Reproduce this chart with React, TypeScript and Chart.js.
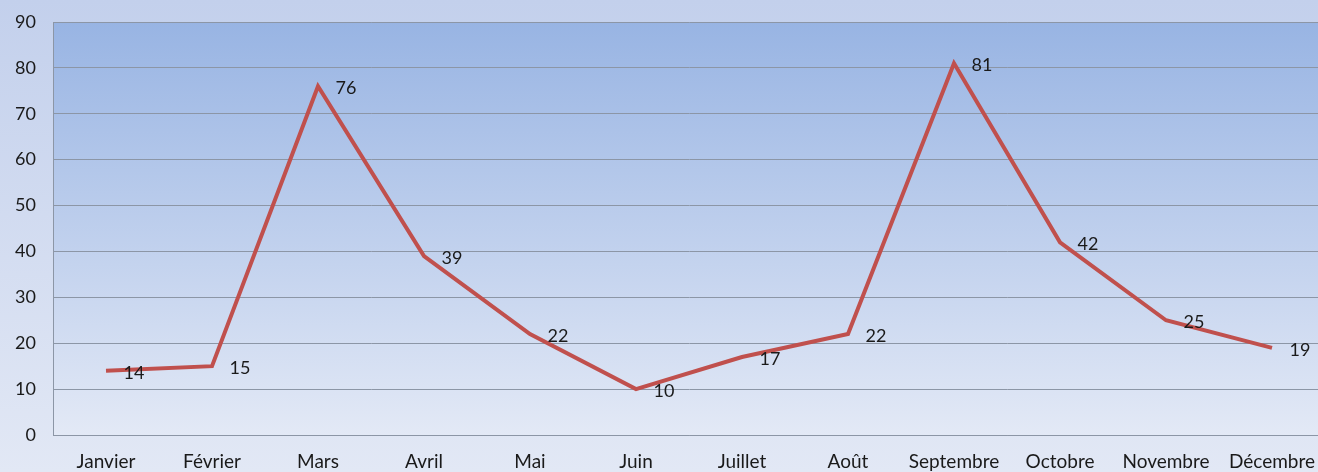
import React, { useEffect, useRef } from "react";
import { Chart, registerables } from "chart.js";

Chart.register(...registerables);

const categories = ["Janvier", "Février", "Mars", "Avril", "Mai", "Juin", "Juillet", "Août", "Septembre", "Octobre", "Novembre", "Décembre"];
const values = [14, 15, 76, 39, 22, 10, 17, 22, 81, 42, 25, 19];

const FONT = "Lato, 'Noto Sans', sans-serif";

const bgPlugin = {
  id: "bgPlugin",
  beforeDraw(chart: any) {
    const { ctx, width, height, chartArea } = chart;
    ctx.save();
    const g = ctx.createLinearGradient(0, 0, 0, height);
    g.addColorStop(0, "#c3d0ec");
    g.addColorStop(1, "#e2e8f5");
    ctx.fillStyle = g;
    ctx.fillRect(0, 0, width, height);
    const g2 = ctx.createLinearGradient(0, chartArea.top, 0, chartArea.bottom);
    g2.addColorStop(0, "#98b4e3");
    g2.addColorStop(1, "#e3e9f6");
    ctx.fillStyle = g2;
    ctx.fillRect(chartArea.left, chartArea.top, chartArea.right - chartArea.left, chartArea.bottom - chartArea.top);
    ctx.restore();
  },
};

const labelPlugin = {
  id: "labelPlugin",
  afterDatasetsDraw(chart: any) {
    const { ctx } = chart;
    const meta = chart.getDatasetMeta(0);
    ctx.save();
    ctx.font = "18px " + FONT;
    ctx.fillStyle = "#1a1a1a";
    ctx.textAlign = "center";
    ctx.textBaseline = "middle";
    meta.data.forEach((pt: any, i: number) => {
      ctx.fillText(String(values[i]), pt.x + 28, pt.y + 2);
    });
    ctx.restore();
  },
};

export default function App() {
  const ref = useRef<HTMLCanvasElement | null>(null);
  useEffect(() => {
    document.body.style.margin = "0";
    const chart = new Chart(ref.current!, {
      type: "line",
      data: {
        labels: categories,
        datasets: [
          {
            data: values,
            borderColor: "#c0504d",
            borderWidth: 4,
            pointRadius: 0,
            tension: 0,
            fill: false,
          },
        ],
      },
      options: {
        animation: false,
        responsive: false,
        layout: { padding: { top: 22, left: 0, right: 0, bottom: 0 } },
        plugins: { legend: { display: false }, tooltip: { enabled: false } },
        scales: {
          x: {
            offset: true,
            grid: { display: false, drawTicks: false },
            border: { display: true, color: "#8c96a6", width: 1 },
            ticks: { color: "#1a1a1a", font: { family: FONT, size: 19 }, padding: 15, maxRotation: 0, autoSkip: false },
            afterFit(scale: any) {
              scale.height = 37;
              scale.paddingLeft = 0;
              scale.paddingRight = 0;
            },
          },
          y: {
            min: 0,
            max: 90,
            grid: { color: "#8c96a6", lineWidth: 1, drawTicks: false },
            border: { display: true, color: "#8c96a6", width: 1 },
            ticks: { stepSize: 10, color: "#1a1a1a", font: { family: FONT, size: 18 }, padding: 17 },
            afterFit(scale: any) {
              scale.width = 53;
              scale.paddingTop = 0;
              scale.paddingBottom = 0;
            },
          },
        },
      },
      plugins: [bgPlugin, labelPlugin],
    });
    return () => chart.destroy();
  }, []);
  return (
    <div style={{ position: "absolute", left: 0, top: 0, width: 1318, height: 472, overflow: "hidden" }}>
      <canvas ref={ref} width={1325} height={472} style={{ display: "block", width: 1325, height: 472 }} />
    </div>
  );
}
